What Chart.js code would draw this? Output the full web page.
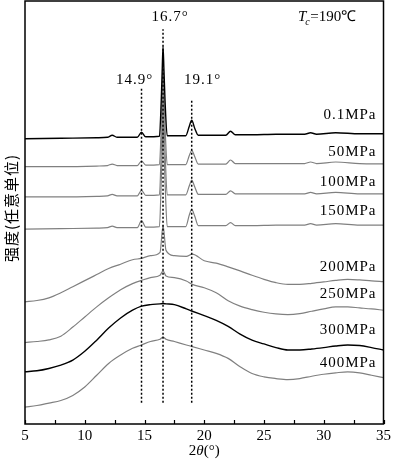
<!DOCTYPE html>
<html>
<head>
<meta charset="utf-8">
<script src="https://cdn.jsdelivr.net/npm/chart.js@4/dist/chart.umd.min.js"></script>
<style>
  html, body { margin: 0; padding: 0; background: #fff; }
  #wrap { width: 394px; height: 462px; }
</style>
</head>
<body>
<div id="wrap"><canvas id="xrd"></canvas></div>
<script>
/** XRD patterns, Tc = 190 C, stacked by pressure **/

// 2theta grid for the crystalline patterns (0.1 - 150 MPa)
var xCryst = [5, 8, 11, 11.9, 12.3, 12.7, 14.4, 14.75, 15.1, 16.25, 16.4, 16.48, 16.55, 16.63, 16.72, 16.9,
              18.45, 18.75, 18.95, 19.2, 19.5, 21.8, 22.2, 22.6, 24, 26, 28.4, 28.9, 29.4, 31, 33, 35];
// 2theta grid for the high pressure patterns (200 - 400 MPa)
var xAmorph = [5, 6, 7, 8, 9, 10, 11, 12, 13, 14, 14.75, 15.5, 16.3, 16.55, 16.8, 17.5, 18.5, 19, 20, 21,
               22, 23, 24, 25, 26, 27, 28, 29, 30, 31, 32, 33, 34, 35];

// intensity (a.u., already offset for stacking)
var i01 = [281.5, 282, 282.5, 283, 285, 283, 283, 288, 283.5, 284, 319, 349, 373, 349, 319, 284.5,
           284.5, 294, 300, 292, 285, 285, 289, 285.5, 285.5, 286, 286, 287.5, 286, 287.5, 286.5, 286.5];
var i50 = [254, 254, 254.5, 255, 256.5, 255, 255, 259.5, 255.5, 256, 294, 324, 354, 324, 294, 256,
           256, 265, 270, 264, 256.5, 256.5, 260.5, 257, 257, 257, 257, 258.5, 257, 258.5, 257, 256.7];
var i100 = [224, 224, 224.5, 225, 226.5, 225, 225, 230.5, 225.5, 226, 269, 299, 334, 299, 269, 226,
            226, 235, 240.5, 234, 226.5, 226.5, 230, 227, 227, 227, 227, 228.5, 227, 228.5, 227, 227];
var i150 = [192, 192.5, 193, 193.5, 195, 193.5, 193.5, 200.5, 194, 194.5, 239, 269, 309, 269, 239, 194.5,
            194.5, 206, 211.5, 205, 195.5, 195.5, 198.5, 195.5, 195.5, 196, 196, 197.5, 196, 197.5, 196, 196];
var i200 = [120, 121.3, 124, 129, 135, 141, 147, 153, 157.3, 161.7, 163, 165.7, 169, 195.7, 171, 165.7,
            165, 167.3, 160.7, 158.3, 154.7, 150.7, 146.3, 142.3, 139, 137.3, 137.3, 138.3, 139.7, 141.3,
            142.3, 141.7, 140.7, 140];
var i250 = [79.7, 80.7, 82.3, 86, 95, 105, 115, 124, 132, 138, 141.3, 144, 146.3, 150.7, 145.7, 144,
            140.7, 137.3, 134, 129, 121, 115.7, 112.3, 109.7, 108, 107.3, 108.3, 110.7, 113, 115,
            115, 114, 113, 111.7];
var i300 = [50.7, 51.7, 54, 57.3, 62.3, 71, 82, 94, 104, 111.7, 115.7, 117.3, 118, 118.3, 118, 117.3,
            113, 110.7, 106.3, 101.7, 95.7, 88, 82, 78.3, 74.7, 72.3, 72.3, 73.3, 74.7, 76.3,
            77.3, 76.7, 74.7, 72.3];
var i400 = [15.7, 17.3, 19.7, 22.3, 27.3, 35.7, 47.3, 59, 67.3, 74, 77.3, 80.7, 83, 85, 83, 80.7,
            77.3, 75.7, 72.3, 69, 64, 55.7, 49, 45.7, 44, 43, 44, 46.3, 48.3, 49.7,
            50.7, 49.7, 47.3, 45];

var pressures = ["0.1MPa", "50MPa", "100MPa", "150MPa", "200MPa", "250MPa", "300MPa", "400MPa"];

// marked reflections: where the dotted line sits, its label, top of the line
var peakPos = [14.75, 16.55, 18.95];
var peakLabels = ["14.9°", "16.7°", "19.1°"];
var peakTop = [331, 390, 321];
var peakBottom = 20;

var xTicks = [5, 10, 15, 20, 25, 30, 35];

function pairs(xs, ys) {
    return xs.map(function (x, i) { return { x: x, y: ys[i] }; });
}

var BLACK = '#000000';
var GREY = '#808080';
var serif = '"Liberation Serif", "Times New Roman", serif';

var curves = [
    [xCryst, i01, BLACK], [xCryst, i50, GREY], [xCryst, i100, GREY], [xCryst, i150, GREY],
    [xAmorph, i200, GREY], [xAmorph, i250, GREY], [xAmorph, i300, BLACK], [xAmorph, i400, GREY]
];

var datasets = [];
peakPos.forEach(function (p, k) {
    datasets.push({
        label: peakLabels[k],
        data: [{ x: p, y: peakBottom }, { x: p, y: peakTop[k] }],
        borderColor: BLACK,
        borderWidth: 1.5,
        borderDash: [2, 2],
        pointRadius: 0,
        order: 0
    });
});
curves.forEach(function (c, k) {
    datasets.push({
        label: pressures[k],
        data: pairs(c[0], c[1]),
        borderColor: c[2],
        borderWidth: c[2] === BLACK ? 1.4 : 1.2,
        pointRadius: 0,
        cubicInterpolationMode: 'monotone',
        order: k === 0 ? 1 : k + 2
    });
});

// label positions (pixels) for the pressure tags
var tagY = [115, 152, 182, 211, 267, 294, 330, 363];

var decor = {
    id: 'decor',
    afterDraw: function (chart) {
        var ctx = chart.ctx, a = chart.chartArea, xs = chart.scales.x;
        ctx.save();
        // frame
        ctx.strokeStyle = BLACK;
        ctx.lineWidth = 1.5;
        ctx.strokeRect(a.left, a.top, a.right - a.left, a.bottom - a.top);
        // inward ticks
        ctx.lineWidth = 1.2;
        for (var v = 5; v <= 35; v += 2.5) {
            var px = Math.round(xs.getPixelForValue(v)) + 0.5;
            ctx.beginPath();
            ctx.moveTo(px, a.bottom);
            ctx.lineTo(px, a.bottom - 4);
            ctx.stroke();
        }
        ctx.fillStyle = BLACK;
        ctx.textBaseline = 'middle';
        ctx.letterSpacing = '1px';
        ctx.font = '15px ' + serif;

        // pressure tags
        ctx.textAlign = 'right';
        pressures.forEach(function (t, k) {
            ctx.fillText(t, a.right - 7, tagY[k]);
        });

        // peak labels
        ctx.textAlign = 'center';
        var labY = [80, 17, 80];
        var labDx = [-7, 7, 11];
        peakLabels.forEach(function (t, k) {
            ctx.fillText(t, xs.getPixelForValue(peakPos[k]) + labDx[k], labY[k]);
        });

        // Tc=190 C
        ctx.textAlign = 'left';
        ctx.letterSpacing = '0px';
        ctx.font = 'italic 15px ' + serif;
        ctx.fillText('T', 298, 17);
        var w = ctx.measureText('T').width;
        ctx.font = 'italic 10px ' + serif;
        ctx.fillText('c', 298 + w - 1, 22);
        ctx.font = '15px ' + serif;
        ctx.fillText('=190℃', 298 + w + 4, 17);

        // x title: 2θ(°)
        var parts = [['2', ''], ['θ', 'italic '], ['(°)', '']];
        var tot = 0;
        parts.forEach(function (p) { ctx.font = p[1] + '15px ' + serif; tot += ctx.measureText(p[0]).width; });
        var x0 = (a.left + a.right) / 2 - tot / 2;
        parts.forEach(function (p) {
            ctx.font = p[1] + '15px ' + serif;
            ctx.fillText(p[0], x0, 451);
            x0 += ctx.measureText(p[0]).width;
        });

        // y title
        ctx.translate(11, 208);
        ctx.rotate(-Math.PI / 2);
        ctx.textAlign = 'center';
        ctx.letterSpacing = '1px';
        ctx.font = '15px "Noto Sans CJK SC", sans-serif';
        ctx.fillText('强度(任意单位)', 0, 0);
        ctx.restore();
    }
};

var xrd = document.getElementById('xrd');
var xrdChart = new Chart(xrd, {
    type: 'line',
    data: { datasets: datasets },
    options: {
        responsive: true,
        maintainAspectRatio: false,
        animation: false,
        devicePixelRatio: 1,
        layout: { padding: { left: 25, right: 9, top: 1, bottom: 14 } },
        plugins: { legend: { display: false }, tooltip: { enabled: false } },
        scales: {
            x: {
                type: 'linear',
                min: 5,
                max: 35,
                grid: { display: false, drawTicks: false },
                border: { display: false },
                afterBuildTicks: function (s) {
                    s.ticks = xTicks.map(function (v) { return { value: v }; });
                },
                ticks: {
                    autoSkip: false,
                    maxRotation: 0,
                    padding: 3,
                    color: BLACK,
                    font: { family: serif, size: 15 }
                }
            },
            y: { display: false, min: -1, max: 418 }
        }
    },
    plugins: [decor]
});
</script>
</body>
</html>
